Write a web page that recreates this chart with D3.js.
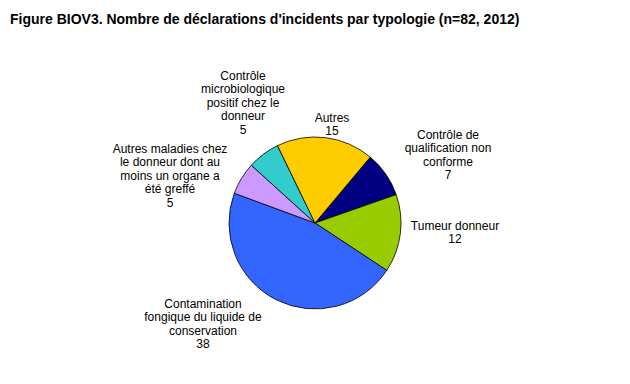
<!DOCTYPE html>
<html>
<head>
<meta charset="utf-8">
<script src="https://cdn.jsdelivr.net/npm/d3@7"></script>
<style>
  body { margin: 0; background: #fff; }
  text { font-family: "Liberation Sans", Arial, sans-serif; }
</style>
</head>
<body>
<div id="chart"></div>
<script>
const categories = [
  "Contrôle de qualification non conforme",
  "Tumeur donneur",
  "Contamination fongique du liquide de conservation",
  "Autres maladies chez le donneur dont au moins un organe a été greffé",
  "Contrôle microbiologique positif chez le donneur",
  "Autres",
];
const values = [7, 12, 38, 5, 5, 15];
const labelLines = [
  ["Contrôle de", "qualification non", "conforme"],
  ["Tumeur donneur"],
  ["Contamination", "fongique du liquide de", "conservation"],
  ["Autres maladies chez", "le donneur dont au", "moins un organe a", "été greffé"],
  ["Contrôle", "microbiologique", "positif chez le", "donneur"],
  ["Autres"],
];
const colors = ["#000080", "#99cc00", "#3366ff", "#cc99ff", "#33cccc", "#ffcc00"];
// label block top-left anchor, relative to pie centre
const labelOffsets = [
  [133, -89], [140, 2], [-112, 80], [-145, -75], [-72, -148], [17, -106],
];

const W = 630, H = 384;
const cx = 315, cy = 223, R = 86;

const svg = d3.select("#chart").append("svg")
  .attr("width", W).attr("height", H);

svg.append("text")
  .attr("x", 10).attr("y", 23.5)
  .style("font-size", "14px").style("font-weight", "bold")
  .text("Figure BIOV3. Nombre de déclarations d'incidents par typologie (n=82, 2012)");

const pie = d3.pie().sort(null).value(d => d)
  .startAngle(40 * Math.PI / 180)
  .endAngle(400 * Math.PI / 180);
const arc = d3.arc().innerRadius(0).outerRadius(R);

const g = svg.append("g").attr("transform", `translate(${cx},${cy})`);
g.selectAll("path.slice")
  .data(pie(values))
  .enter()
  .append("path")
  .attr("class", "slice")
  .attr("d", arc)
  .style("fill", (d, i) => colors[i])
  .style("stroke", "#000")
  .style("stroke-width", 0.8);

const lh = 13.6;
labelLines.forEach((lines, i) => {
  const t = g.append("text")
    .attr("text-anchor", "middle")
    .style("font-size", "12px")
    .style("fill", "#000");
  lines.concat([String(values[i])]).forEach((s, k) => {
    t.append("tspan")
      .attr("x", labelOffsets[i][0])
      .attr("y", labelOffsets[i][1] + k * lh + 4.5)
      .text(s);
  });
});
</script>
</body>
</html>
